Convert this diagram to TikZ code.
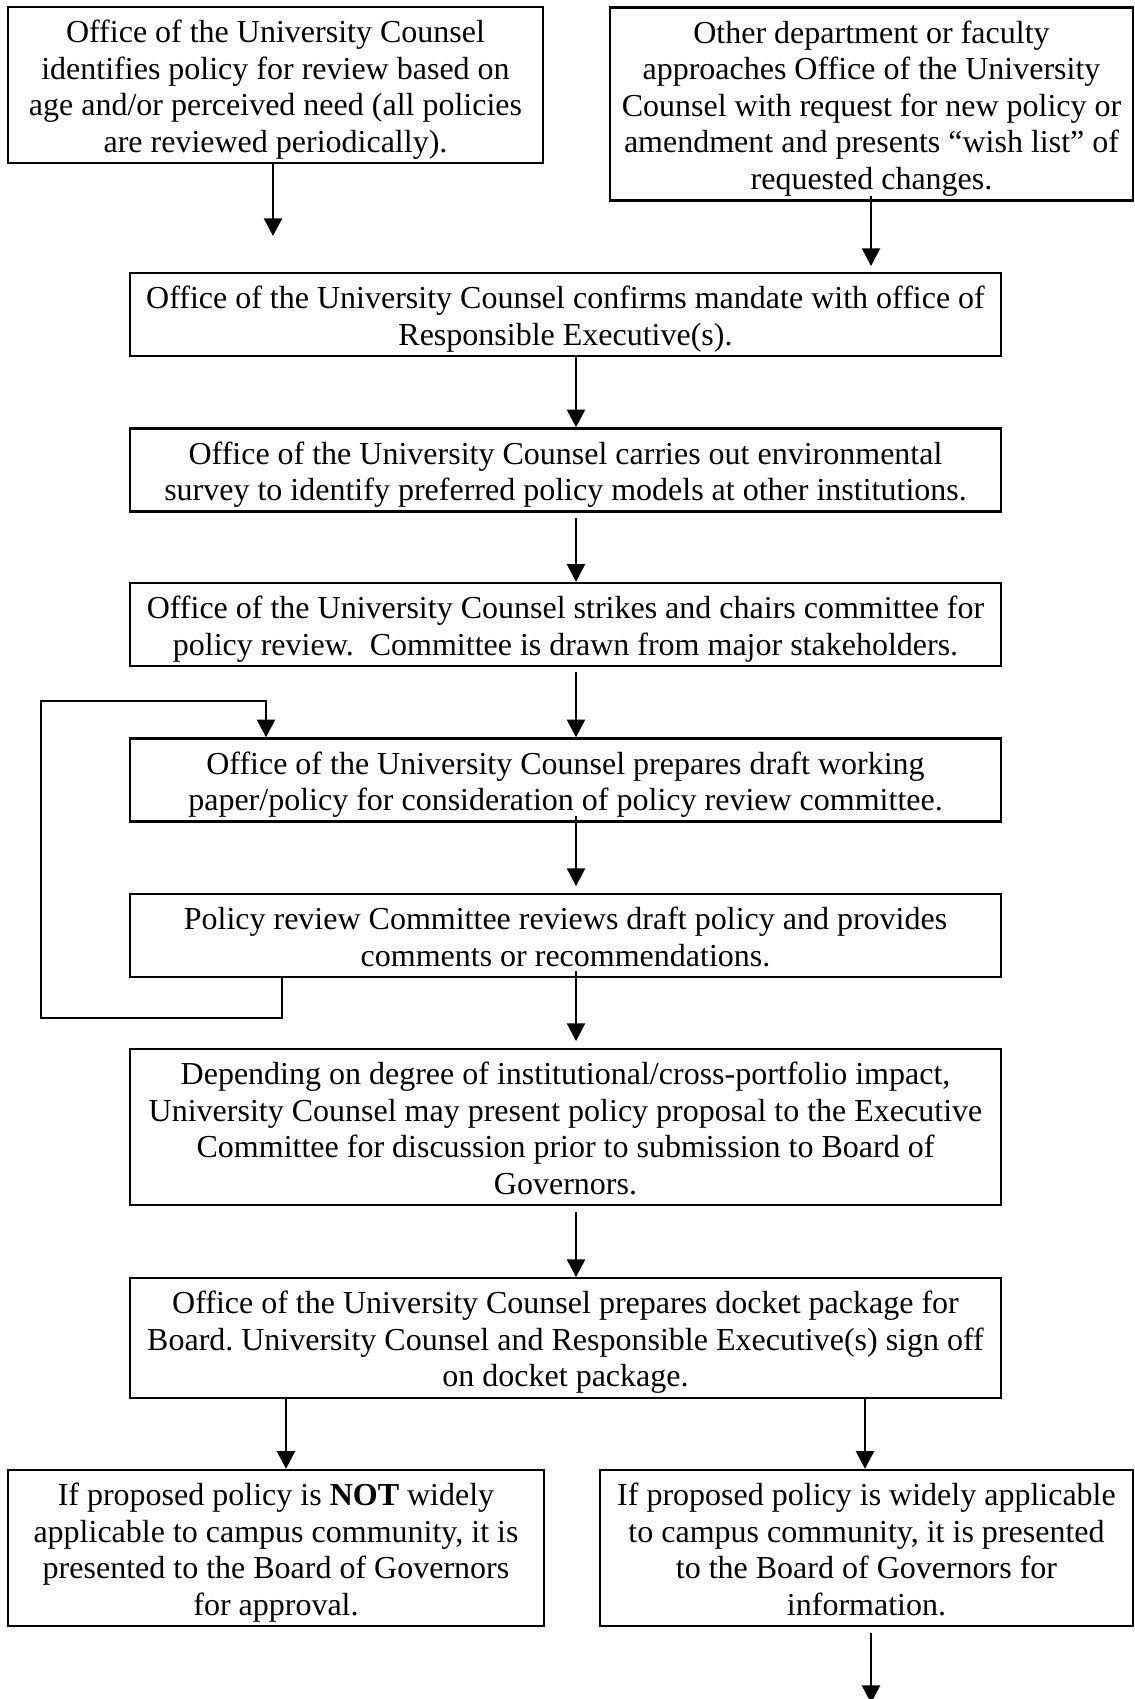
\documentclass[tikz,border=0pt]{standalone}
\usepackage{fontspec}
\setmainfont{Liberation Serif}
\usetikzlibrary{arrows.meta}
\newcommand\bxtop{\rule{0pt}{13.4pt}}
\newcommand\bxbot{\rule[-4.1pt]{0pt}{4.1pt}}
\tikzset{
  stepbox/.style={draw=black, line width=0.85pt, inner sep=0pt, align=center,
    font=\fontsize{12pt}{13.7pt}\selectfont\frenchspacing},
  arr/.style={draw=black, line width=0.7pt, -{Triangle[width=6.8pt,length=6.6pt]}},
}
\begin{document}
\begin{tikzpicture}[x=0.375pt,y=-0.375pt]
\useasboundingbox (0,0) rectangle (1135,1699);
% boxes
\node[stepbox, minimum width=200.6pt, minimum height=57pt] (b1) at (275.5,85) {\bxtop Office of the University Counsel\\ identifies policy for review based on\\ age and/or perceived need (all policies\\ are reviewed periodically).\bxbot};
\node[stepbox, minimum width=196.1pt, minimum height=71.25pt] (b2) at (871.5,104) {\bxtop Other department or faculty\\ approaches Office of the University\\ Counsel with request for new policy or\\ amendment and presents “wish list” of\\ requested changes.\bxbot};
\node[stepbox, minimum width=326.6pt, minimum height=30.4pt] (b3) at (565.5,314.5) {\bxtop Office of the University Counsel confirms mandate with office of\\ Responsible Executive(s).\bxbot};
\node[stepbox, minimum width=326.6pt, minimum height=30pt] (b4) at (565.5,470) {\bxtop Office of the University Counsel carries out environmental\\ survey to identify preferred policy models at other institutions.\bxbot};
\node[stepbox, minimum width=326.6pt, minimum height=29.6pt] (b5) at (565.5,624.5) {\bxtop Office of the University Counsel strikes and chairs committee for\\ policy review.\ \ Committee is drawn from major stakeholders.\bxbot};
\node[stepbox, minimum width=326.6pt, minimum height=30pt] (b6) at (565.5,780) {\bxtop Office of the University Counsel prepares draft working\\ paper/policy for consideration of policy review committee.\bxbot};
\node[stepbox, minimum width=326.6pt, minimum height=30.4pt] (b7) at (565.5,935.5) {\bxtop Policy review Committee reviews draft policy and provides\\ comments or recommendations.\bxbot};
\node[stepbox, minimum width=326.6pt, minimum height=57.75pt] (b8) at (565.5,1127) {\bxtop Depending on degree of institutional/cross-portfolio impact,\\ University Counsel may present policy proposal to the Executive\\ Committee for discussion prior to submission to Board of\\ Governors.\bxbot};
\node[stepbox, minimum width=326.6pt, minimum height=44.25pt] (b9) at (565.5,1338) {\bxtop Office of the University Counsel prepares docket package for\\ Board. University Counsel and Responsible Executive(s) sign off\\ on docket package.\bxbot};
\node[stepbox, minimum width=201pt, minimum height=57.75pt] (b10) at (276,1548) {\bxtop If proposed policy is \textbf{NOT} widely\\ applicable to campus community, it is\\ presented to the Board of Governors\\ for approval.\bxbot};
\node[stepbox, minimum width=199.9pt, minimum height=57.75pt] (b11) at (866.5,1548) {\bxtop If proposed policy is widely applicable\\ to campus community, it is presented\\ to the Board of Governors for\\ information.\bxbot};
% helper coordinates
\coordinate (e1) at (273,236);
\coordinate (e2) at (871,266);
\coordinate (sp) at (576,0);
\coordinate (e6) at (576,886);
\coordinate (e7) at (576,1041);
\coordinate (xl) at (286,0);
\coordinate (xr) at (865,0);
\coordinate (e11) at (871,1703);
\coordinate (lx) at (282,0);
\coordinate (lb) at (41,1018);
\coordinate (lt) at (266,701);
% connectors
\draw[arr] (b1.south -| e1) -- (e1);
\draw[arr] ([yshift=2.25pt]b2.south -| e2) -- (e2);
\draw[arr] (b3.south -| sp) -- (b4.north -| sp);
\draw[arr] ([yshift=-1.9pt]b4.south -| sp) -- (b5.north -| sp);
\draw[arr] ([yshift=-1.9pt]b5.south -| sp) -- (b6.north -| sp);
\draw[arr] ([yshift=2.6pt]b6.south -| sp) -- (e6);
\draw[arr] ([yshift=2.6pt]b7.south -| sp) -- (e7);
\draw[arr] ([yshift=-2.2pt]b8.south -| sp) -- (b9.north -| sp);
\draw[arr] (b9.south -| xl) -- (b10.north -| xl);
\draw[arr] (b9.south -| xr) -- (b11.north -| xr);
\draw[arr] ([yshift=-2.2pt]b11.south -| e11) -- (e11);
\draw[arr] (b7.south -| lx) |- (lb) |- (lt) -- (b6.north -| lt);
\end{tikzpicture}
\end{document}
